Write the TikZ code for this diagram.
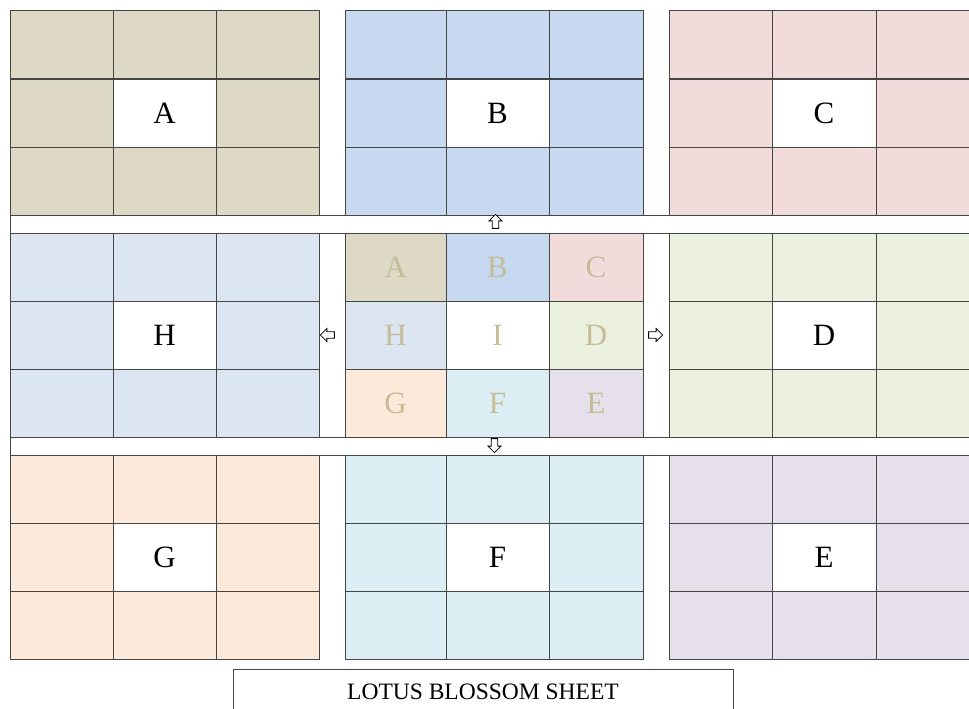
\documentclass[tikz,border=0pt]{standalone}
\usepackage{fontspec}
\setmainfont{Liberation Serif}
\usetikzlibrary{shapes.arrows}
\definecolor{cA}{HTML}{DDD9C4}
\definecolor{cB}{HTML}{C6D9F1}
\definecolor{cC}{HTML}{F2DCDB}
\definecolor{cD}{HTML}{EBF1DE}
\definecolor{cE}{HTML}{E5E0EC}
\definecolor{cF}{HTML}{DBEEF4}
\definecolor{cG}{HTML}{FDE9D9}
\definecolor{cH}{HTML}{DCE6F2}
\definecolor{ctan}{HTML}{C4BD97}
\definecolor{cline}{HTML}{454545}
\def\XS{{10,113,216,319,345,446,549,643,669,772,876,979}}
\def\YS{{11,79,147,215,233,301,369,437,455,523,591,659}}
\begin{document}
\begin{tikzpicture}[x=1pt,y=-1pt,
  cellbox/.style={draw=cline,line width=1pt,inner sep=0pt,outer sep=0pt,anchor=north west},
  bigletter/.style={font=\fontsize{31}{31}\selectfont},
  midletter/.style={font=\fontsize{31}{31}\selectfont,text=ctan},
  stripbox/.style={draw=cline,line width=1pt,fill=white,inner sep=0pt,outer sep=0pt,anchor=north west},
  blockarrow/.style={single arrow,draw=black,fill=white,line width=0.8pt,inner sep=2.6pt,
     minimum height=14pt,minimum width=13pt,single arrow head extend=3pt}]
\useasboundingbox (0,0) rectangle (969,709);
\clip (0,0) rectangle (969,709);
\fill[white] (0,0) rectangle (969,709);
% outer blocks
\foreach \name/\col/\c/\r in {A/cA/0/0,B/cB/1/0,C/cC/2/0,H/cH/0/1,D/cD/2/1,G/cG/0/2,F/cF/1/2,E/cE/2/2}{
  \foreach \i in {0,1,2}{
    \foreach \j in {0,1,2}{
      \pgfmathsetmacro\xa{\XS[4*\c+\i]}
      \pgfmathsetmacro\xb{\XS[4*\c+\i+1]}
      \pgfmathsetmacro\ya{\YS[4*\r+\j]}
      \pgfmathsetmacro\yb{\YS[4*\r+\j+1]}
      \pgfmathsetmacro\w{\xb-\xa}
      \pgfmathsetmacro\h{\yb-\ya}
      \ifnum\i=1 \ifnum\j=1
        \node[cellbox,fill=white,bigletter,minimum width=\w pt,minimum height=\h pt] (\name-\i-\j) at (\xa,\ya) {\name};
      \else
        \node[cellbox,fill=\col,minimum width=\w pt,minimum height=\h pt] (\name-\i-\j) at (\xa,\ya) {};
      \fi\else
        \node[cellbox,fill=\col,minimum width=\w pt,minimum height=\h pt] (\name-\i-\j) at (\xa,\ya) {};
      \fi
    }
  }
}
% centre block
\foreach \name/\col/\i/\j in {A/cA/0/0,B/cB/1/0,C/cC/2/0,H/cH/0/1,I/white/1/1,D/cD/2/1,G/cG/0/2,F/cF/1/2,E/cE/2/2}{
  \pgfmathsetmacro\xa{\XS[4+\i]}
  \pgfmathsetmacro\xb{\XS[4+\i+1]}
  \pgfmathsetmacro\ya{\YS[4+\j]}
  \pgfmathsetmacro\yb{\YS[4+\j+1]}
  \pgfmathsetmacro\w{\xb-\xa}
  \pgfmathsetmacro\h{\yb-\ya}
  \node[cellbox,fill=\col,midletter,minimum width=\w pt,minimum height=\h pt] (M-\name) at (\xa,\ya) {\name};
}
% horizontal strips
\node[stripbox,minimum width=970pt,minimum height=18pt] (strip1) at (10,215) {};
\node[stripbox,minimum width=970pt,minimum height=18pt] (strip2) at (10,437) {};
% arrows
\node[blockarrow,shape border rotate=90] (up) at (495.5,223) {};
\node[blockarrow,shape border rotate=270] (down) at (494.5,444) {};
\node[blockarrow,shape border rotate=180] (left) at (329,335) {};
\node[blockarrow] (right) at (654,335) {};
% title
\node[draw=cline,line width=1pt,fill=white,anchor=north,minimum width=500pt,minimum height=44pt,inner sep=0pt,
  font=\fontsize{23.5}{23.5}\selectfont] (title) at (483,669) {LOTUS BLOSSOM SHEET};
\end{tikzpicture}
\end{document}
